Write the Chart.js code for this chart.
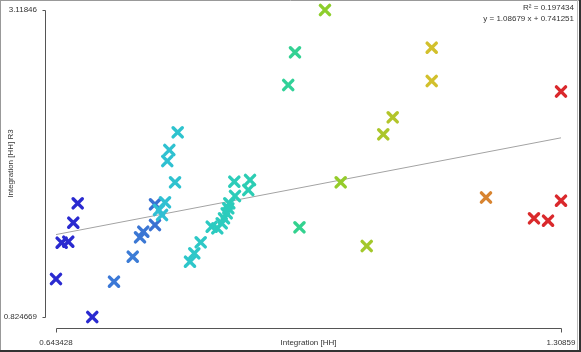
<!DOCTYPE html>
<html>
<head>
<meta charset="utf-8">
<script src="https://cdn.jsdelivr.net/npm/chart.js@4/dist/chart.umd.min.js"></script>
<style>
  html, body { margin: 0; padding: 0; background: #fff; }
  canvas { display: block; }
</style>
</head>
<body>
<canvas id="scatter" width="581" height="352"></canvas>
<script>
// values
const xValues = [0.6720, 0.6662, 0.6509, 0.6596, 0.6434, 0.6912, 0.7198, 0.7445, 0.7541, 0.7584,
  0.7738, 0.7738, 0.7791, 0.7831, 0.7870, 0.8002, 0.7900, 0.7927, 0.8037, 0.8199,
  0.8256, 0.8340, 0.8485, 0.8559, 0.8617, 0.8647, 0.8683, 0.8704, 0.8717, 0.8792,
  0.8783, 0.8967, 0.8990, 0.9641, 0.9493, 0.9582, 0.9977, 1.0184, 1.0527, 1.0745,
  1.0869, 1.1383, 1.1383, 1.2098, 1.2730, 1.2915, 1.3086, 1.3086];
const yValues = [1.6742, 1.5292, 1.3798, 1.3873, 1.1086, 0.8247, 1.0884, 1.2752, 1.4202, 1.4620,
  1.5121, 1.6667, 1.6242, 1.5868, 1.6817, 1.8311, 1.9903, 2.0724, 2.2047, 1.2378,
  1.3006, 1.3828, 1.4994, 1.4874, 1.5248, 1.5621, 1.5995, 1.6368, 1.6742, 1.7288,
  1.8356, 1.7736, 1.8483, 1.4949, 2.5581, 2.8024, 3.1185, 1.8311, 1.3552, 2.1898,
  2.3168, 2.8368, 2.5880, 1.7175, 1.5621, 1.5442, 1.6936, 2.5095];

const xRange = [0.643428, 1.30859];
const yRange = [0.824669, 3.11846];
const xTickLabels = ['0.643428', '1.30859'];
const yTickLabels = ['0.824669', '3.11846'];
const fitSlope = 1.08679;
const fitIntercept = 0.741251;
const rSquared = '0.197434';

// colour ramp along x (blue -> cyan -> green -> yellow -> red)
const colorStops = [
  [0.000, [42, 42, 208]],
  [0.080, [42, 42, 208]],
  [0.120, [62, 132, 216]],
  [0.198, [58, 112, 210]],
  [0.203, [48, 190, 212]],
  [0.300, [44, 202, 196]],
  [0.400, [44, 206, 176]],
  [0.490, [52, 210, 140]],
  [0.530, [140, 206, 44]],
  [0.650, [172, 198, 42]],
  [0.750, [212, 192, 44]],
  [0.850, [216, 134, 48]],
  [0.930, [218, 44, 44]],
  [1.000, [218, 40, 44]]
];

function rampColor(x){
  const t = (x - xRange[0]) / (xRange[1] - xRange[0]);
  for (let i = 1; i < colorStops.length; i++) {
    const [t1, c1] = colorStops[i];
    const [t0, c0] = colorStops[i - 1];
    if (t <= t1) {
      const f = t1 === t0 ? 0 : (t - t0) / (t1 - t0);
      const c = c0.map((v, k) => Math.round(v + (c1[k] - v) * f));
      return `rgb(${c[0]},${c[1]},${c[2]})`;
    }
  }
  const c = colorStops[colorStops.length - 1][1];
  return `rgb(${c[0]},${c[1]},${c[2]})`;
}

const points = xValues.map((x, i) => ({ x: x, y: yValues[i] }));
const pointColors = xValues.map(rampColor);
const fitLine = xRange.map(x => ({ x: x, y: fitSlope * x + fitIntercept }));

const FONT = "'Liberation Sans', Arial, sans-serif";
const FONT_SIZE = 8;
const textColor = '#333';

// no extra room for overhanging tick labels: the plot area is fixed by layout padding
function noLabelPadding(s){
  s.paddingTop = 0; s.paddingBottom = 0; s.paddingLeft = 0; s.paddingRight = 0;
}

// axis lines offset from the plot area, plus the fit text and frame
const extras = {
  id: 'extras',
  beforeDatasetDraw(chart, args) {
    if (args.index === 1) chart.ctx.lineCap = 'round';
  },
  afterDatasetDraw(chart, args) {
    if (args.index === 1) chart.ctx.lineCap = 'butt';
  },
  afterDraw(chart) {
    const ctx = chart.ctx;
    const xs = chart.scales.x, ys = chart.scales.y;
    ctx.save();
    ctx.strokeStyle = '#555';
    ctx.lineWidth = 1;
    // y axis
    const ax = 45.5;
    const yTop = Math.round(ys.getPixelForValue(yRange[1])) + 0.5;
    const yBot = Math.round(ys.getPixelForValue(yRange[0])) + 0.5;
    ctx.beginPath();
    ctx.moveTo(ax - 3, yTop); ctx.lineTo(ax, yTop); ctx.lineTo(ax, yBot); ctx.lineTo(ax - 3, yBot);
    ctx.stroke();
    // x axis
    const ay = 328.5;
    const xL = Math.round(xs.getPixelForValue(xRange[0])) + 0.5;
    const xR = Math.round(xs.getPixelForValue(xRange[1])) + 0.5;
    ctx.beginPath();
    ctx.moveTo(xL, ay + 4); ctx.lineTo(xL, ay); ctx.lineTo(xR, ay); ctx.lineTo(xR, ay + 4);
    ctx.stroke();

    // fit text
    ctx.fillStyle = textColor;
    ctx.font = FONT_SIZE + 'px ' + FONT;
    ctx.textAlign = 'right';
    ctx.textBaseline = 'middle';
    ctx.fillText('R\u00B2 = ' + rSquared, 574, 8);
    ctx.fillText('y = ' + fitSlope + ' x + ' + fitIntercept, 574, 19);

    // frame
    ctx.strokeStyle = '#999';
    ctx.beginPath();
    ctx.moveTo(0, 0.5); ctx.lineTo(581, 0.5);
    ctx.moveTo(0.5, 0); ctx.lineTo(0.5, 352);
    ctx.stroke();
    ctx.strokeStyle = '#bbb';
    ctx.beginPath();
    ctx.moveTo(577.5, 0); ctx.lineTo(577.5, 350);
    ctx.stroke();
    ctx.strokeStyle = '#333';
    ctx.lineWidth = 2;
    ctx.beginPath();
    ctx.moveTo(0, 351); ctx.lineTo(581, 351);
    ctx.moveTo(580, 0); ctx.lineTo(580, 352);
    ctx.stroke();
    ctx.restore();
  }
};

const chart = new Chart(document.getElementById('scatter'), {
  type: 'scatter',
  data: {
    datasets: [
      {
        type: 'line',
        data: fitLine,
        borderColor: '#a3a3a3',
        borderWidth: 1,
        pointRadius: 0,
        fill: false,
        order: 2
      },
      {
        data: points,
        pointStyle: 'crossRot',
        pointRadius: 6.5,
        pointHoverRadius: 6.5,
        borderWidth: 3.4,
        borderColor: pointColors,
        backgroundColor: pointColors,
        clip: false,
        order: 1
      }
    ]
  },
  options: {
    responsive: false,
    animation: false,
    events: [],
    layout: { padding: { top: 10, right: 20, left: 0, bottom: 0 } },
    plugins: { legend: { display: false }, tooltip: { enabled: false } },
    scales: {
      x: {
        type: 'linear',
        min: xRange[0],
        max: xRange[1],
        afterFit: s => { s.height = 35; noLabelPadding(s); },
        afterBuildTicks: s => { s.ticks = xRange.map(v => ({ value: v })); },
        grid: { display: false, drawTicks: false },
        border: { display: false },
        ticks: {
          padding: 21,
          maxRotation: 0,
          autoSkip: false,
          color: textColor,
          font: { size: FONT_SIZE, family: FONT },
          callback: (v, i) => xTickLabels[i]
        },
        title: {
          display: true,
          text: 'Integration [HH]',
          color: textColor,
          font: { size: FONT_SIZE, family: FONT },
          padding: { top: 0, bottom: 4 }
        }
      },
      y: {
        type: 'linear',
        min: yRange[0],
        max: yRange[1],
        afterFit: s => { s.width = 56; noLabelPadding(s); },
        afterBuildTicks: s => { s.ticks = yRange.map(v => ({ value: v })); },
        grid: { display: false, drawTicks: false },
        border: { display: false },
        ticks: {
          padding: 19,
          autoSkip: false,
          color: textColor,
          font: { size: FONT_SIZE, family: FONT },
          callback: (v, i) => yTickLabels[i]
        },
        title: {
          display: true,
          text: 'Integration [HH] R3',
          color: textColor,
          font: { size: FONT_SIZE, family: FONT },
          padding: { top: 6, bottom: 0 }
        }
      }
    }
  },
  plugins: [extras]
});
</script>
</body>
</html>
